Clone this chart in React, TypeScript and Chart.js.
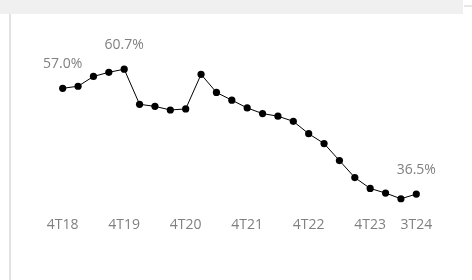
import React, { useEffect, useRef } from "react";
import { Chart, registerables } from "chart.js";

Chart.register(...registerables);

const quarters = [
  "4T18",
  "1T19", "2T19", "3T19", "4T19",
  "1T20", "2T20", "3T20", "4T20",
  "1T21", "2T21", "3T21", "4T21",
  "1T22", "2T22", "3T22", "4T22",
  "1T23", "2T23", "3T23", "4T23",
  "1T24", "2T24", "3T24",
];

const values = [
  57.0,
  57.4, 59.3, 60.1, 60.7,
  53.9, 53.5, 52.8, 53.0,
  59.7, 56.2, 54.7, 53.2,
  52.1, 51.6, 50.6, 48.2,
  46.3, 43.0, 39.7, 37.6,
  36.7, 35.6, 36.5,
];

const shownTicks = ["4T18", "4T19", "4T20", "4T21", "4T22", "4T23", "3T24"];
const labelledPoints = ["4T18", "4T19", "3T24"];

const FONT = "'Open Sans', 'Liberation Sans', sans-serif";
const GRAY = "#808080";

const dataLabelPlugin = {
  id: "pointLabels",
  afterDatasetsDraw(chart: any) {
    const meta = chart.getDatasetMeta(0);
    const ctx = chart.ctx;
    ctx.save();
    ctx.font = `14px ${FONT}`;
    ctx.fillStyle = GRAY;
    ctx.textAlign = "center";
    ctx.textBaseline = "middle";
    quarters.forEach((q, i) => {
      if (!labelledPoints.includes(q)) return;
      const el = meta.data[i];
      ctx.fillText(`${values[i].toFixed(1)}%`, el.x, el.y - 24);
    });
    ctx.restore();
  },
};

export default function App() {
  const ref = useRef<HTMLCanvasElement | null>(null);

  useEffect(() => {
    if (!ref.current) return;
    const chart = new Chart(ref.current, {
      type: "line",
      data: {
        labels: quarters,
        datasets: [
          {
            data: values,
            borderColor: "#000000",
            borderWidth: 1,
            pointRadius: 3.6,
            pointBackgroundColor: "#000000",
            pointBorderWidth: 0,
            tension: 0,
            fill: false,
          },
        ],
      },
      options: {
        animation: false,
        responsive: false,
        maintainAspectRatio: false,
        devicePixelRatio: 1,
        layout: {
          padding: { left: 62.7, right: 55.7, top: 36.7, bottom: 44 },
        },
        plugins: {
          legend: { display: false },
          tooltip: { enabled: false },
        },
        scales: {
          x: {
            type: "category",
            offset: false,
            border: { display: false },
            grid: { display: false, drawTicks: false },
            ticks: {
              autoSkip: false,
              maxRotation: 0,
              minRotation: 0,
              padding: 3,
              color: GRAY,
              font: { family: FONT, size: 14 },
              callback: (_v: any, i: number) =>
                shownTicks.includes(quarters[i]) ? quarters[i] : "",
            },
          },
          y: {
            display: false,
            min: 32.8,
            max: 67,
          },
        },
      },
      plugins: [dataLabelPlugin],
    });
    return () => chart.destroy();
  }, []);

  return (
    <div
      style={{
        position: "fixed",
        left: 0,
        top: 0,
        width: 472,
        height: 280,
        background: "#ffffff",
        overflow: "hidden",
      }}
    >
      <div style={{ position: "absolute", left: 0, top: 0, width: 463, height: 14, background: "#f0f0f0" }} />
      <div style={{ position: "absolute", left: 9, top: 14, width: 2, height: 266, background: "#e2e2e2" }} />
      <div style={{ position: "absolute", left: 464, top: 5, width: 8, height: 2, background: "#e6e6e6" }} />
      <canvas
        ref={ref}
        width={472}
        height={280}
        style={{ position: "absolute", left: 0, top: 0, width: 472, height: 280 }}
      />
    </div>
  );
}
